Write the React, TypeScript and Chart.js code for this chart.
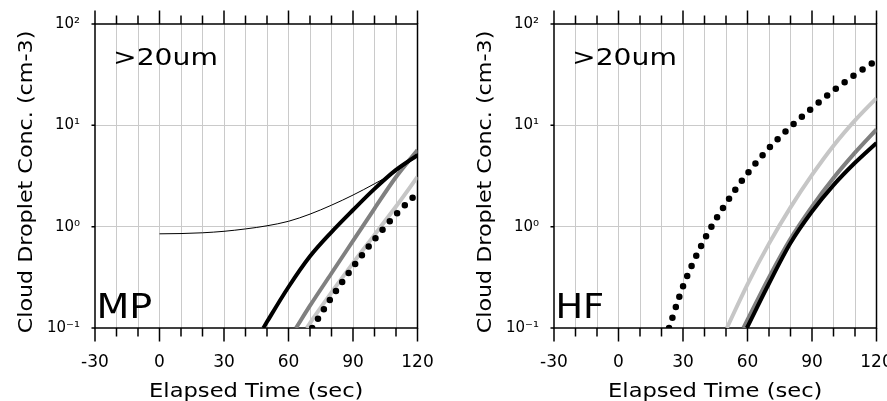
import React, { useEffect, useRef } from 'react';
import { Chart, registerables } from 'chart.js';

Chart.register(...registerables);

// ---------- axis data ----------
const xMin = -30;
const xMax = 120;
const xStep = 10;
const xLabelEvery = 30;
const yDecades = [0.1, 1, 10, 100];
const yTickLabels = ['10⁻¹', '10⁰', '10¹', '10²'];

const sizeLabel = '>20um';
const xTitle = 'Elapsed Time (sec)';
const yTitle = 'Cloud Droplet Conc. (cm-3)';

// ---------- MP panel ----------
const mpTimeBlack = [48.3, 50, 60, 70, 80, 90, 100, 110, 120];
const mpBlack = [0.1, 0.115, 0.254, 0.51, 0.885, 1.46, 2.36, 3.63, 5.08];
const mpTimeGray = [63.5, 70, 80, 90, 100, 110, 120];
const mpGray = [0.1, 0.166, 0.347, 0.724, 1.51, 3.09, 5.7];
const mpTimeLight = [68.5, 70, 80, 90, 100, 110, 120];
const mpLight = [0.1, 0.112, 0.224, 0.437, 0.83, 1.58, 3.1];
const mpTimeDot = [71, 80, 90, 100, 110, 120];
const mpDot = [0.1, 0.2, 0.4, 0.75, 1.32, 2.16];
const mpTimeThin = [0, 10, 20, 30, 40, 50, 60, 70, 80, 90, 100, 110, 120];
const mpThin = [0.85, 0.855, 0.87, 0.9, 0.95, 1.02, 1.13, 1.33, 1.63, 2.05, 2.65, 3.5, 4.95];

// ---------- HF panel ----------
const hfTimeDot = [23.5, 30, 40, 50, 60, 70, 80, 90, 100, 110, 120];
const hfDot = [0.1, 0.257, 0.75, 1.7, 3.35, 5.96, 9.66, 14.8, 22, 31.6, 43.7];
const hfTimeLight = [50.4, 60, 70, 80, 90, 100, 110, 120];
const hfLight = [0.1, 0.27, 0.68, 1.55, 3.24, 6.3, 11.2, 18.6];
const hfTimeGray = [58.1, 70, 80, 90, 100, 110, 120];
const hfGray = [0.1, 0.316, 0.76, 1.58, 3.02, 5.37, 9.1];
const hfTimeBlack = [59.7, 70, 80, 90, 100, 110, 120];
const hfBlack = [0.1, 0.275, 0.69, 1.41, 2.57, 4.27, 6.71];

// ---------- styles ----------
const BLACK = '#000000';
const GRAY = '#808080';
const LIGHT = '#c6c6c6';
const GRID = '#cacaca';
const FONT = 'DejaVu Sans';

type Style = { color: string; width: number; dotted?: boolean };

function ds(times: number[], values: number[], st: Style) {
  return {
    data: times.map((t, i) => ({ x: t, y: values[i] })),
    borderColor: st.color,
    backgroundColor: st.color,
    borderWidth: st.width,
    borderDash: st.dotted ? [0, 11] : [],
    borderCapStyle: st.dotted ? 'round' : 'butt',
    pointRadius: 0,
    cubicInterpolationMode: 'monotone',
    fill: false,
  };
}

function drawText(
  ctx: CanvasRenderingContext2D,
  text: string,
  x: number,
  y: number,
  size: number,
  sx: number,
  align: CanvasTextAlign,
  rot = 0
) {
  ctx.save();
  ctx.translate(x, y);
  if (rot) ctx.rotate(rot);
  ctx.scale(sx, 1);
  ctx.font = `${size}px "${FONT}"`;
  ctx.fillStyle = '#000';
  ctx.textAlign = align;
  ctx.textBaseline = 'alphabetic';
  ctx.fillText(text, 0, 0);
  ctx.restore();
}

function makePlugin(panelName: string, nameScale: number) {
  return {
    id: 'frameAndText',
    beforeDatasetsDraw(chart: any) {
      const { ctx, chartArea: a, scales } = chart;
      const xs = scales.x;
      const ys = scales.y;
      ctx.save();
      ctx.strokeStyle = '#000';
      ctx.lineWidth = 1.5;
      ctx.strokeRect(a.left, a.top, a.right - a.left, a.bottom - a.top);
      ctx.beginPath();
      xs.ticks.forEach((t: any) => {
        const px = xs.getPixelForValue(t.value);
        const len = Math.round(t.value) % xLabelEvery === 0 ? 13.5 : 8.5;
        ctx.moveTo(px, a.bottom);
        ctx.lineTo(px, a.bottom + len);
        ctx.moveTo(px, a.top);
        ctx.lineTo(px, a.top - len);
      });
      ys.ticks.forEach((t: any) => {
        const py = ys.getPixelForValue(t.value);
        ctx.moveTo(a.left, py);
        ctx.lineTo(a.left - 3.5, py);
      });
      ctx.stroke();
      ctx.restore();
    },
    afterDraw(chart: any) {
      const { ctx, chartArea: a } = chart;
      const cx = (a.left + a.right) / 2;
      drawText(ctx, xTitle, cx, 396.5, 19.5, 1.16, 'center');
      drawText(ctx, yTitle, 31.5, (a.top + a.bottom) / 2 + 6, 19.5, 1.14, 'center', -Math.PI / 2);
      drawText(ctx, sizeLabel, a.left + 18, 65, 23.5, 1.2, 'left');
      drawText(ctx, panelName, a.left + 1.5, 318, 34, nameScale, 'left');
    },
  };
}

function buildConfig(datasets: any[], panelName: string, nameScale: number): any {
  return {
    type: 'line',
    data: { datasets },
    options: {
      responsive: false,
      animation: false,
      devicePixelRatio: 1,
      layout: { padding: { left: 0, right: 41.5, top: 23, bottom: 0 } },
      plugins: { legend: { display: false }, tooltip: { enabled: false } },
      scales: {
        x: {
          type: 'linear',
          min: xMin,
          max: xMax,
          afterFit: (s: any) => {
            s.height = 73;
          },
          ticks: {
            stepSize: xStep,
            autoSkip: false,
            maxRotation: 0,
            padding: 24,
            color: '#000',
            font: { family: FONT, size: 17 },
            callback: (v: number) => (Math.round(v) % xLabelEvery === 0 ? String(v) : ''),
          },
          grid: {
            drawTicks: false,
            lineWidth: 1,
            color: (c: any) =>
              c.tick && (c.tick.value === xMin || c.tick.value === xMax) ? 'rgba(0,0,0,0)' : GRID,
          },
          border: { display: false },
        },
        y: {
          type: 'logarithmic',
          min: yDecades[0],
          max: yDecades[yDecades.length - 1],
          afterFit: (s: any) => {
            s.width = 95;
          },
          afterBuildTicks: (s: any) => {
            s.ticks = yDecades.map((v) => ({ value: v }));
          },
          ticks: {
            autoSkip: false,
            padding: 15,
            color: '#000',
            font: { family: FONT, size: 15 },
            callback: (v: number) => {
              const i = yDecades.findIndex((d) => Math.abs(d - v) < d * 1e-6);
              return i >= 0 ? yTickLabels[i] : '';
            },
          },
          grid: {
            drawTicks: false,
            lineWidth: 1,
            color: (c: any) =>
              c.tick && (c.tick.value === yDecades[0] || c.tick.value === yDecades[yDecades.length - 1])
                ? 'rgba(0,0,0,0)'
                : GRID,
          },
          border: { display: false },
        },
      },
    },
    plugins: [makePlugin(panelName, nameScale)],
  };
}

function Panel({ datasets, name, nameScale, left }: any) {
  const ref = useRef<HTMLCanvasElement>(null);
  useEffect(() => {
    const chart = new Chart(ref.current as HTMLCanvasElement, buildConfig(datasets, name, nameScale));
    return () => chart.destroy();
  }, []);
  return (
    <canvas
      ref={ref}
      width={459}
      height={401}
      style={{ position: 'absolute', left, top: 0, width: 459, height: 401, display: 'block' }}
    />
  );
}

export default function App() {
  const mpSets = [
    ds(mpTimeDot, mpDot, { color: BLACK, width: 6.5, dotted: true }),
    ds(mpTimeBlack, mpBlack, { color: BLACK, width: 4 }),
    ds(mpTimeThin, mpThin, { color: BLACK, width: 1 }),
    ds(mpTimeGray, mpGray, { color: GRAY, width: 4 }),
    ds(mpTimeLight, mpLight, { color: LIGHT, width: 4 }),
  ];
  const hfSets = [
    ds(hfTimeDot, hfDot, { color: BLACK, width: 6.5, dotted: true }),
    ds(hfTimeBlack, hfBlack, { color: BLACK, width: 4 }),
    ds(hfTimeGray, hfGray, { color: GRAY, width: 4 }),
    ds(hfTimeLight, hfLight, { color: LIGHT, width: 4 }),
  ];
  return (
    <div style={{ position: 'fixed', left: 0, top: 0, width: 918, height: 401, background: '#fff' }}>
      <Panel datasets={mpSets} name="MP" nameScale={1.12} left={0} />
      <Panel datasets={hfSets} name="HF" nameScale={1.08} left={459} />
    </div>
  );
}
